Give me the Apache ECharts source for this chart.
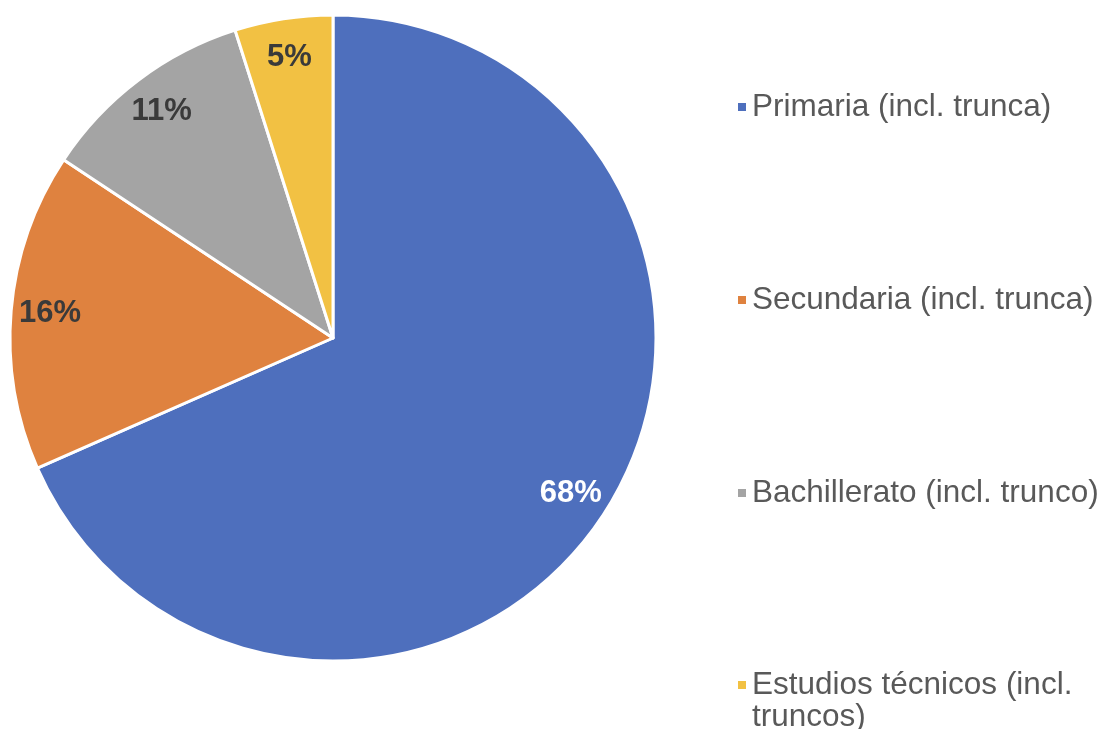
<!DOCTYPE html>
<html>
<head>
<meta charset="utf-8">
<script src="https://cdn.jsdelivr.net/npm/echarts@6/dist/echarts.min.js"></script>
<style>html,body{margin:0;padding:0;background:#fff}#c{width:1107px;height:729px}</style>
</head>
<body>
<div id="c"></div>
<script>
const categories = ['Primaria (incl. trunca)', 'Secundaria (incl. trunca)', 'Bachillerato (incl. trunco)', 'Estudios técnicos (incl. truncos)'];
const values = [68.4, 15.9, 10.8, 4.9];
const colors = ['#4E6FBD', '#DF823F', '#A4A4A4', '#F2C143'];
const labelColors = ['#ffffff', '#3a3a3a', '#3a3a3a', '#3a3a3a'];

const chart = echarts.init(document.getElementById('c'));
const center = [333, 338];
const R = 323;
const font = 'Liberation Sans, Arial, sans-serif';
const data = categories.map((n, i) => ({name: n, value: values[i], itemStyle: {color: colors[i]}}));
const labelData = categories.map((n, i) => ({name: n, value: values[i], label: {color: labelColors[i]}}));
const legendBase = {
  orient: 'vertical',
  left: 736,
  itemWidth: 10,
  itemHeight: 10,
  icon: 'rect',
  padding: 0,
  selectedMode: false
};
chart.setOption({
  animation: false,
  color: colors,
  legend: [
    Object.assign({}, legendBase, {
      top: 89,
      itemGap: 157,
      textStyle: {fontFamily: font, fontSize: 31.5, color: '#595959', lineHeight: 36},
      data: categories.slice(0, 3)
    }),
    Object.assign({}, legendBase, {
      top: 669,
      itemHeight: 42,
      icon: 'path://M0 0H10V10H0Z M0 41.9H0.02V42H0Z',
      textStyle: {fontFamily: font, fontSize: 31.5, color: '#595959', lineHeight: 32},
      formatter: function () { return 'Estudios técnicos (incl.\ntruncos)'; },
      data: categories.slice(3)
    })
  ],
  series: [{
    type: 'pie',
    center: center,
    radius: [0, R],
    startAngle: 90,
    clockwise: true,
    label: {show: false},
    labelLine: {show: false},
    itemStyle: {borderColor: '#fff', borderWidth: 3},
    emphasis: {disabled: true},
    data: data
  }, {
    type: 'pie',
    center: center,
    radius: [R * 0.74, R],
    startAngle: 90,
    clockwise: true,
    silent: true,
    itemStyle: {color: 'rgba(0,0,0,0)'},
    label: {
      show: true,
      position: 'inside',
      fontFamily: font,
      fontWeight: 'bold',
      fontSize: 31,
      formatter: function (p) { return Math.round(p.value) + '%'; }
    },
    labelLine: {show: false},
    emphasis: {disabled: true},
    data: labelData
  }]
});
</script>
</body>
</html>
